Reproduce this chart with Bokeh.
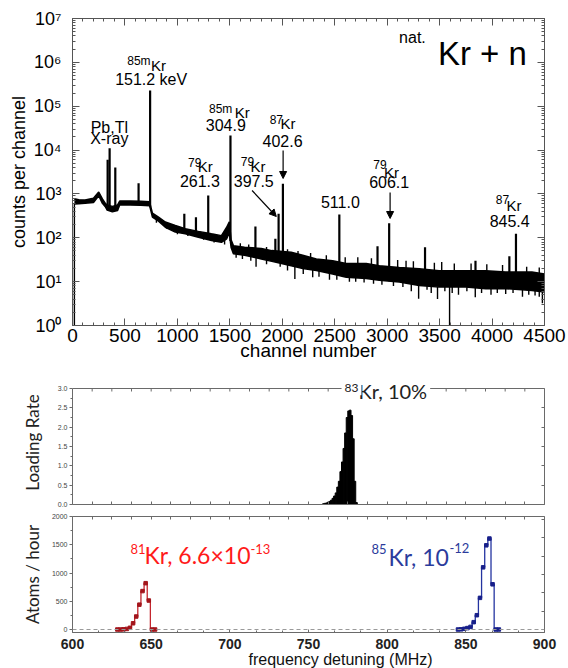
import numpy as np
from bokeh.plotting import figure
from bokeh.layouts import column
from bokeh.models import (Range1d, LinearAxis, LogAxis, Label, Arrow, NormalHead, Span, Title,
                          FixedTicker, CustomJSTickFormatter, PrintfTickFormatter)
from bokeh.embed import file_html
from bokeh.resources import INLINE

ARIAL = "Liberation Sans"
CAL = "Lato"

# ---------------- top panel: gamma spectrum of natKr + n ----------------
env_ch = [18, 60, 120, 200, 250, 285, 315, 330, 380, 430, 450, 550, 650, 735, 762, 820, 885,
          980, 1075, 1200, 1325, 1420, 1470, 1495, 1512, 1535, 1640, 1800, 1900, 2085, 2195,
          2325, 2480, 2610, 2800, 2925, 3115, 3305, 3495, 3750, 3940, 4130, 4380, 4500]
env_lo = [590, 600, 610, 640, 910, 610, 500, 430, 390, 420, 560, 560, 550, 540, 295, 240, 174,
          135, 123, 103, 87, 79, 95, 130, 60, 43, 40, 33, 29, 23, 20,
          18, 15, 12.6, 11.8, 10.7, 9.8, 8.2, 7.5, 7.5, 6.9, 6.9, 6.3, 5.8]
env_hi = [780, 740, 730, 800, 1100, 770, 600, 560, 520, 560, 690, 690, 680, 660, 363, 295, 229,
          190, 160, 140, 123, 112, 174, 230, 90, 66, 61, 57, 51, 47, 40,
          33, 30, 26, 26, 23, 21, 19.6, 17.8, 17.8, 17.8, 16.6, 16.6, 15]

peak_ch = [335, 354, 408, 630, 740, 1066, 1177, 1294, 1506, 1744, 1934, 1965, 2006,
           2544, 2908, 3019, 3361, 3842, 4165, 4228]
peak_top = [6000, 11000, 4000, 1760, 228000, 352, 295, 920, 21500, 180, 95, 355, 1700,
            340, 64, 215, 61, 30, 38, 124]

dip_ch = [18, 800, 900, 1000, 1100, 1250, 1350, 1450, 1560, 1620, 1700, 1750, 1850, 1980,
          2050, 2120, 2200, 2290, 2350, 2450, 2520, 2640, 2700, 2780, 2870, 2950, 3060, 3150,
          3230, 3300, 3380, 3420, 3480, 3550, 3595, 3620, 3680, 3760, 3840, 3900, 3990, 4050,
          4130, 4200, 4290, 4350, 4410, 4450, 4480]
dip_low = [1, 220, 160, 120, 110, 90, 78, 70, 35, 33, 30, 22, 25, 22,
           18, 11.5, 15, 12.6, 13, 11, 11, 10, 10, 9.5, 9, 8.5, 8, 7.5,
           6, 4.1, 6.5, 5.5, 4, 6, 1, 5.5, 5, 6, 4.4, 5.5, 5, 5.5,
           5.2, 5.5, 4.5, 5, 4.8, 4.5, 3.2]

up_ch = [1600, 1680, 1850, 2050, 2150, 2270, 2420, 2600, 2720, 2850, 3100, 3180, 3250,
         3450, 3520, 3640, 3800, 3950, 4100, 4330, 4450]
up_top = [75, 70, 62, 55, 50, 45, 40, 36, 36, 34, 31, 30, 29, 27, 28, 26, 26, 25, 24, 22, 21]

ch_ticks = [0, 500, 1000, 1500, 2000, 2500, 3000, 3500, 4000, 4500]
decades = [1, 10, 100, 1000, 10000, 100000, 1000000, 10000000]
decade_labels = ["10\u2070", "10\u00b9", "10\u00b2", "10\u00b3", "10\u2074", "10\u2075",
                 "10\u2076", "10\u2077"]

# ---------------- middle panel: 83Kr loading rate ----------------
lr_freq = [759.5, 760.5, 761.5, 762.5, 763.5, 764.5, 765.5, 766.5, 767.5, 768.5, 769.5,
           770.5, 771.5, 772.5, 773.5, 774.5, 775.5, 776.5, 777.5, 778.5, 779.5, 780.5]
lr_rate = [0.02, 0.03, 0.04, 0.06, 0.08, 0.11, 0.16, 0.22, 0.30, 0.45, 0.60,
           0.85, 1.10, 1.45, 1.85, 2.25, 2.42, 2.44, 2.30, 1.70, 0.60, 0.05]
lr_ticks = [0, 0.5, 1.0, 1.5, 2.0, 2.5, 3.0]
LR_MAX = 3.0

# ---------------- bottom panel: 81Kr and 85Kr counting ----------------
kr81_freq = [628.5, 630.5, 632.5, 634.5, 636.5, 638.5, 640.5, 642.5, 644.5, 646.5, 648.5, 650.5, 652.5]
kr81_rate = [0, 0, 3, 10, 30, 110, 230, 440, 680, 820, 513, 0, 0]
kr85_freq = [845, 847, 849, 851, 853, 855, 857, 859, 861, 863, 865, 867, 869, 871]
kr85_rate = [0, 3, 12, 25, 46, 130, 253, 560, 1100, 1490, 1610, 800, 0, 0]
atoms_ticks = [0, 500, 1000, 1500, 2000]
freq_ticks = [600, 650, 700, 750, 800, 850, 900]

W = 568
blank = CustomJSTickFormatter(code="return ''")

# pixel scales of the three frames (used to lift a text from its baseline to its centre)
PX_DECADE = 307 / 7.0
PX_RATE = 116 / 3.0
PX_ATOMS = 116 / 2053.0


def add_label(p, text, x, y, size, lift, font=ARIAL, color="black", align="left", bg=None):
    """y is the text baseline; lift(y, px) returns the data y that lies px pixels higher."""
    lab = Label(x=x, y=lift(y, 0.36 * size), text=text, text_font=font,
                text_font_size=f"{size}px", text_color=color, text_align=align,
                text_baseline="middle")
    if bg is not None:
        lab.background_fill_color = bg
        lab.padding = 3
    p.add_layout(lab)


lift_log = lambda e, px: 10 ** (e + px / PX_DECADE)
lift_rate = lambda v, px: v + px / PX_RATE
lift_atoms = lambda v, px: v + px / PX_ATOMS


def style_axis(ax, color, tin, tout, min_in=0, min_out=0, standoff=0):
    ax.axis_line_color = color
    ax.major_tick_line_color = color
    ax.minor_tick_line_color = color
    ax.major_tick_in = tin
    ax.major_tick_out = tout
    ax.minor_tick_in = min_in
    ax.minor_tick_out = min_out
    ax.major_label_standoff = standoff


# ======================= TOP =======================
p1 = figure(width=W, height=370, y_axis_type="log",
            x_range=Range1d(0, 4500), y_range=Range1d(1, 1e7),
            output_backend="svg", toolbar_location=None,
            min_border_left=72, min_border_right=22, min_border_top=18, min_border_bottom=45)
p1.grid.visible = False
p1.outline_line_color = None

lo_at = lambda c: float(np.interp(c, env_ch, env_lo))
hi_at = lambda c: float(np.interp(c, env_ch, env_hi))

p1.varea(x=env_ch, y1=env_lo, y2=env_hi, fill_color="black")
p1.line(x=env_ch, y=env_lo, line_color="black", line_width=1.5)
p1.line(x=env_ch, y=env_hi, line_color="black", line_width=1.5)
p1.segment(x0=dip_ch, y0=[lo_at(c) for c in dip_ch], x1=dip_ch, y1=dip_low,
           line_color="black", line_width=1.4)
p1.segment(x0=up_ch, y0=[hi_at(c) for c in up_ch], x1=up_ch, y1=up_top,
           line_color="black", line_width=1.4)
p1.segment(x0=peak_ch, y0=[lo_at(c) for c in peak_ch], x1=peak_ch, y1=peak_top,
           line_color="black", line_width=2.2)

FRAME1 = "#555555"
xt = FixedTicker(ticks=ch_ticks, minor_ticks=list(range(0, 4501, 100)))
yt = FixedTicker(ticks=decades, minor_ticks=[m * 10 ** k for k in range(7) for m in range(2, 10)])

xa, ya = p1.xaxis[0], p1.yaxis[0]
xa.ticker = xt
xa.major_label_text_font = ARIAL
xa.major_label_text_font_size = "19px"
xa.axis_label = "channel number"
xa.axis_label_text_font = ARIAL
xa.axis_label_text_font_size = "19px"
xa.axis_label_text_font_style = "normal"
xa.axis_label_standoff = -5

ya.ticker = yt
ya.major_label_overrides = dict(zip(decades, decade_labels))
ya.major_label_text_font = ARIAL
ya.major_label_text_font_size = "18px"
ya.axis_label = "counts per channel"
ya.axis_label_text_font = ARIAL
ya.axis_label_text_font_size = "18px"
ya.axis_label_text_font_style = "normal"
ya.axis_label_standoff = 2

top_ax = LinearAxis(ticker=xt, formatter=blank)
right_ax = LogAxis(ticker=yt, formatter=blank)
p1.add_layout(top_ax, "above")
p1.add_layout(right_ax, "right")
for ax in [xa, ya, top_ax, right_ax]:
    style_axis(ax, FRAME1, 7, 0, 3, 0, 0)
    ax.major_label_text_color = "black"
    ax.axis_label_text_color = "black"
xa.major_label_standoff = 3
ya.major_label_standoff = 11

iso = [("85m", 522, 5.928, "Kr", 769, 5.814),
       ("85m", 1301, 4.834, "Kr", 1566, 4.736),
       ("87", 1880, 4.606, "Kr", 2003, 4.492),
       ("79", 1101, 3.610, "Kr", 1215, 3.496),
       ("79", 1604, 3.648, "Kr", 1718, 3.511),
       ("79", 2867, 3.573, "Kr", 2990, 3.375),
       ("87", 4035, 2.775, "Kr", 4158, 2.607)]
for sup, sx, sy, el, ex, ey in iso:
    add_label(p1, sup, sx, sy, 12, lift_log)
    add_label(p1, el, ex - 20, ey, 15, lift_log)

energies = [("151.2 keV", 750, 5.472), ("304.9", 1462, 4.446), ("402.6", 2003, 4.081),
            ("261.3", 1215, 3.169), ("397.5", 1728, 3.169), ("606.1", 3019, 3.140),
            ("511.0", 2554, 2.684), ("845.4", 4168, 2.242),
            ("Pb,Tl", 351, 4.378), ("X-ray", 351, 4.127)]
for t, x, y in energies:
    add_label(p1, t, x, y, 16, lift_log, align="center")

add_label(p1, "nat.", 3114, 6.43, 16, lift_log)
add_label(p1, "Kr + n", 3484, 5.928, 33, lift_log)

head = lambda: NormalHead(size=7, fill_color="black", line_color="black")
for xs, ys, xe, ye in [(1712, 3.078, 1943, 2.485), (2008, 3.990, 2008, 3.352),
                       (3028, 3.033, 3028, 2.440)]:
    p1.add_layout(Arrow(x_start=xs, y_start=10 ** ys, x_end=xe, y_end=10 ** ye, end=head(),
                        line_color="black", line_width=1.2))

# ======================= MIDDLE =======================
FRAME2 = "#6a6a6a"
fine_ticks = [600 + 12.5 * k for k in range(25)]
HEADROOM = 8  # px of frame kept above the top line so that the title can straddle it

p2 = figure(width=W, height=140, x_range=Range1d(600, 900),
            y_range=Range1d(0, LR_MAX + HEADROOM / PX_RATE),
            output_backend="svg", toolbar_location=None,
            min_border_left=72, min_border_right=24, min_border_top=18 - HEADROOM,
            min_border_bottom=6)
p2.grid.visible = False
p2.outline_line_color = None
p2.vbar(x=lr_freq, top=lr_rate, width=1.05, bottom=0, fill_color="black", line_color="black",
        line_width=1)
# top frame line with its inward ticks
p2.segment(x0=fine_ticks, y0=[LR_MAX] * len(fine_ticks), x1=fine_ticks,
           y1=[LR_MAX - 3 / PX_RATE] * len(fine_ticks), line_color=FRAME2, line_width=1)
p2.add_layout(Span(location=LR_MAX, dimension="width", line_color=FRAME2, line_width=1))

p2.xaxis[0].ticker = FixedTicker(ticks=fine_ticks)
p2.xaxis[0].formatter = blank
ly = p2.yaxis[0]
ly.ticker = FixedTicker(ticks=lr_ticks, minor_ticks=[0.25, 0.75, 1.25, 1.75, 2.25, 2.75])
ly.formatter = PrintfTickFormatter(format="%.1f")
ly.bounds = (0, LR_MAX)
p2_right = LinearAxis(ticker=FixedTicker(ticks=lr_ticks), formatter=blank, bounds=(0, LR_MAX))
p2.add_layout(p2_right, "right")
for ax in [p2.xaxis[0], p2_right]:
    style_axis(ax, FRAME2, 3, 0)
style_axis(ly, FRAME2, 0, 3, 0, 2, 2)
ly.major_label_text_font = ARIAL
ly.major_label_text_font_size = "7px"
ly.major_label_text_color = "#444444"
ly.axis_label = "Loading Rate"
ly.axis_label_text_font = CAL
ly.axis_label_text_font_size = "17px"
ly.axis_label_text_font_style = "normal"
ly.axis_label_text_color = "#222222"
ly.axis_label_standoff = 12

add_label(p2, "Kr, 10%", 779.9, 2.741, 20, lift_rate, font=CAL, color="#222222", bg="white")
add_label(p2, "83", 771.0, 2.896, 12, lift_rate, font=CAL, color="#222222", bg="white")

# ======================= BOTTOM =======================
p3 = figure(width=W, height=158, x_range=Range1d(600, 900), y_range=Range1d(-53, 2000),
            output_backend="svg", toolbar_location=None,
            min_border_left=72, min_border_right=24, min_border_top=6, min_border_bottom=36)
p3.grid.visible = False
p3.outline_line_color = None

p3.add_layout(Span(location=0, dimension="width", line_color="#9a9a9a", line_dash="4 3",
                   line_width=1))
RED_L, RED_P = "#c4262e", "#a3161c"
BLUE_L, BLUE_P = "#2434a0", "#18208a"
p3.step(x=kr81_freq, y=kr81_rate, mode="center", line_color=RED_L, line_width=1.3)
p3.scatter(x=kr81_freq, y=kr81_rate, size=3.5, marker="square", fill_color=RED_P, line_color=RED_P)
p3.step(x=kr85_freq, y=kr85_rate, mode="center", line_color=BLUE_L, line_width=1.3)
p3.scatter(x=kr85_freq, y=kr85_rate, size=3.5, marker="square", fill_color=BLUE_P, line_color=BLUE_P)

bx, by = p3.xaxis[0], p3.yaxis[0]
bx.ticker = FixedTicker(ticks=freq_ticks, minor_ticks=[600 + 50 * k / 3 for k in range(19)])
bx.major_label_text_font = ARIAL
bx.major_label_text_font_style = "bold"
bx.major_label_text_font_size = "14px"
bx.major_label_text_color = "#222222"
by.ticker = FixedTicker(ticks=atoms_ticks, minor_ticks=[250, 750, 1250, 1750])
p3_top = LinearAxis(ticker=FixedTicker(ticks=fine_ticks), formatter=blank)
p3_right = LinearAxis(ticker=FixedTicker(ticks=[0, 325, 650, 975, 1300, 1625, 1950]), formatter=blank)
p3.add_layout(p3_top, "above")
p3.add_layout(p3_right, "right")
for ax in [p3_top, p3_right]:
    style_axis(ax, FRAME2, 3, 0, 2, 0)
style_axis(bx, FRAME2, 3, 0, 2, 0, 6)
style_axis(by, FRAME2, 0, 3, 0, 2, 2)
by.major_label_text_font = ARIAL
by.major_label_text_font_size = "7px"
by.major_label_text_color = "#444444"
by.axis_label = "Atoms / hour"
by.axis_label_text_font = CAL
by.axis_label_text_font_size = "17px"
by.axis_label_text_font_style = "normal"
by.axis_label_text_color = "#222222"
by.axis_label_standoff = 6

xt_title = Title(text="frequency detuning (MHz)", align="left", offset=176, standoff=-5,
                 text_font=ARIAL, text_font_size="16px", text_font_style="normal",
                 text_color="#111111")
p3.add_layout(xt_title, "below")

RED_T, BLUE_T = "#ff1a1a", "#2b3b9c"
add_label(p3, "81", 636.9, 1345, 13, lift_atoms, font=CAL, color=RED_T)
add_label(p3, "Kr, 6.6\u00d710", 645.8, 1168, 23, lift_atoms, font=CAL, color=RED_T)
add_label(p3, "-13", 713.1, 1345, 13, lift_atoms, font=CAL, color=RED_T)
add_label(p3, "85", 790.0, 1345, 13, lift_atoms, font=CAL, color=BLUE_T)
add_label(p3, "Kr, 10", 800.8, 1133, 23, lift_atoms, font=CAL, color=BLUE_T)
add_label(p3, "-12", 839.6, 1363, 13, lift_atoms, font=CAL, color=BLUE_T)

layout = column(p1, p2, p3, spacing=0)
open("out.html", "w").write(file_html(layout, INLINE))
